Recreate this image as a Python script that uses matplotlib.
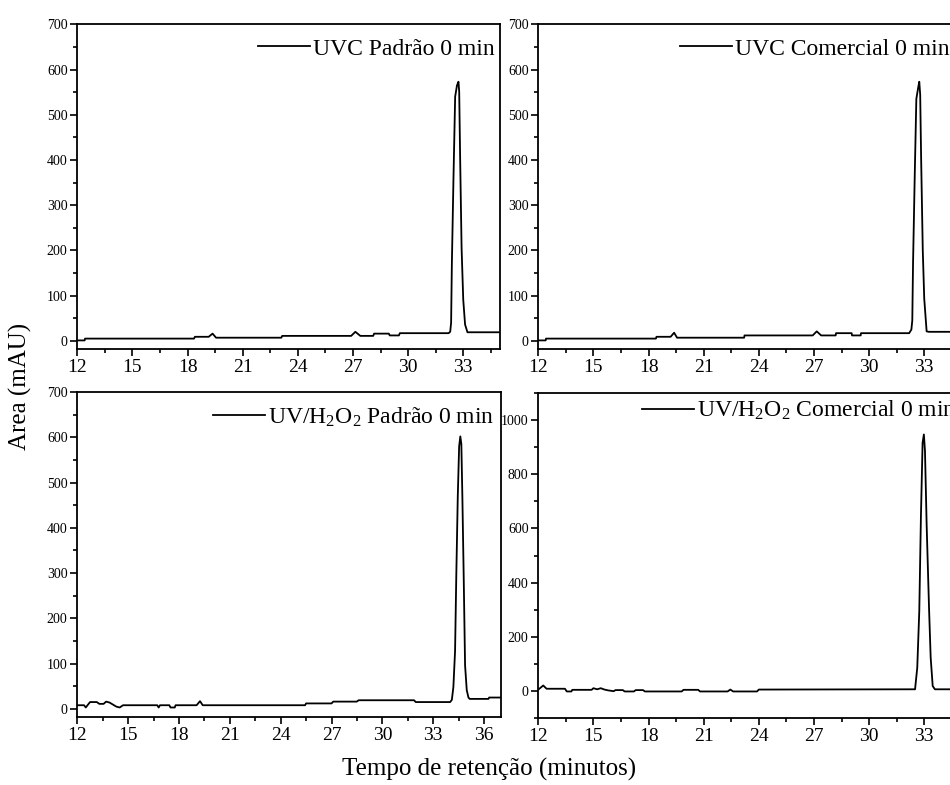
import matplotlib
matplotlib.use('Agg')
import matplotlib.pyplot as plt
from matplotlib.ticker import MultipleLocator

plt.rcParams['font.family'] = ['Liberation Serif', 'DejaVu Serif']
plt.rcParams['mathtext.fontset'] = 'custom'
plt.rcParams['mathtext.rm'] = 'Liberation Serif'
plt.rcParams['mathtext.it'] = 'Liberation Serif:italic'

# ── Chromatograms (time in min, absorbance in mAU) ───────────────────────────

t_uvc_padrao = [12.0, 12.4, 12.42, 18.35, 18.4, 19.15, 19.36, 19.55, 23.1, 23.15,
                26.9, 27.13, 27.4, 28.1, 28.15, 28.95, 29.0, 29.5, 29.55, 32.2,
                32.29, 32.34, 32.38, 32.47, 32.56, 32.66, 32.74, 32.78, 32.83,
                32.91, 33.0, 33.1, 33.23, 35.0]
y_uvc_padrao = [1, 1, 5, 5, 9, 9, 16, 7, 7, 11,
                11, 20, 11, 11, 16, 16, 12, 12, 17, 17,
                20, 40, 168, 363, 540, 565, 573, 551, 408,
                205, 91, 36, 19, 19]

t_uvc_comercial = [12.0, 12.4, 12.42, 18.4, 18.43, 19.2, 19.39, 19.55, 23.2, 23.22,
                   26.93, 27.15, 27.39, 28.18, 28.2, 29.05, 29.07, 29.54, 29.56, 32.18,
                   32.3, 32.35, 32.39, 32.48, 32.57, 32.67, 32.73, 32.78, 32.83,
                   32.92, 33.0, 33.13, 33.25, 35.0]
y_uvc_comercial = [1, 1, 5, 5, 9, 9, 18, 7, 7, 12,
                   12, 21, 12, 12, 17, 17, 12, 12, 17, 17,
                   25, 45, 170, 360, 535, 560, 573, 544, 405,
                   200, 93, 21, 20, 20]

t_h2o2_padrao = [12.0, 12.4, 12.5, 12.75, 13.15, 13.3, 13.55, 13.7, 13.9, 14.3,
                 14.5, 14.7, 16.72, 16.8, 16.88, 17.43, 17.5, 17.75, 17.8, 19.04,
                 19.24, 19.4, 25.44, 25.5, 27.0, 27.1, 28.49, 28.6, 31.87, 31.97,
                 34.0, 34.1, 34.19, 34.29, 34.36, 34.45, 34.53, 34.6, 34.66, 34.72,
                 34.8, 34.88, 34.98, 35.08, 35.15, 36.26, 36.3, 37.0]
y_h2o2_padrao = [8, 8, 3, 15, 15, 11, 11, 16, 14, 5,
                 3, 8, 8, 3, 8, 8, 3, 3, 8, 8,
                 17, 8, 8, 12, 12, 16, 16, 19, 19, 15,
                 15, 20, 48, 128, 290, 470, 580, 602, 585, 470,
                 290, 96, 41, 25, 22, 22, 25, 25]

t_h2o2_comercial = [12.0, 12.27, 12.45, 13.45, 13.55, 13.8, 13.85, 14.9, 15.0, 15.2,
                    15.4, 15.6, 15.8, 16.1, 16.2, 16.6, 16.7, 17.2, 17.3, 17.7,
                    17.8, 19.8, 19.9, 20.7, 20.8, 22.3, 22.45, 22.6, 23.9, 24.0,
                    32.5, 32.62, 32.73, 32.82, 32.91, 32.98, 33.04, 33.13, 33.26,
                    33.35, 33.46, 33.58, 35.0]
y_h2o2_comercial = [5, 20, 8, 8, -2, -2, 4, 4, 10, 6,
                    10, 5, 2, -1, 3, 3, -2, -2, 3, 3,
                    -2, -2, 4, 4, -2, -2, 5, -2, -2, 5,
                    6, 86, 295, 646, 916, 947, 886, 615, 307,
                    123, 18, 6, 6]

labels = ['UVC Padrão 0 min', 'UVC Comercial 0 min',
          'UV/H$_2$O$_2$ Padrão 0 min', 'UV/H$_2$O$_2$ Comercial 0 min']

W, H = 950, 785
fig = plt.figure(figsize=(W / 100, H / 100), dpi=100)


def add_panel(left, right, top, bottom):
    return fig.add_axes([left / W, 1 - bottom / H, (right - left) / W, (bottom - top) / H])


panels = [
    # (axes box in px, x data, y data, xlim, ylim, y major, legend anchor)
    ((77.3, 500, 24.3, 349), t_uvc_padrao, y_uvc_padrao, (12, 35), (-18, 700), 100, (0.4275, 0.924)),
    ((538.3, 961, 24.3, 349), t_uvc_comercial, y_uvc_comercial, (12, 35), (-18, 700), 100, (0.335, 0.924)),
    ((77.3, 501, 392, 717), t_h2o2_padrao, y_h2o2_padrao, (12, 37), (-18, 700), 100, (0.320, 0.922)),
    ((538.3, 961, 393, 718), t_h2o2_comercial, y_h2o2_comercial, (12, 35), (-100, 1100), 200, (0.245, 0.946)),
]

for (box, t, y, xlim, ylim, ymaj, anchor), label in zip(panels, labels):
    ax = add_panel(*box)
    ax.plot(t, y, color='black', lw=1.3, label=label)
    ax.set_xlim(*xlim)
    ax.set_ylim(*ylim)
    ax.xaxis.set_major_locator(MultipleLocator(3))
    ax.xaxis.set_minor_locator(MultipleLocator(1.5))
    ax.yaxis.set_major_locator(MultipleLocator(ymaj))
    ax.yaxis.set_minor_locator(MultipleLocator(ymaj / 2))
    ax.tick_params(which='both', direction='out', width=1.2, top=False, right=False)
    ax.tick_params(which='major', length=5)
    ax.tick_params(which='minor', length=3)
    ax.tick_params(axis='x', labelsize=14, pad=2)
    ax.tick_params(axis='y', labelsize=10, pad=2)
    for sp in ax.spines.values():
        sp.set_linewidth(1.3)
    ax.legend(loc='center left', bbox_to_anchor=anchor, frameon=False,
              fontsize=17, borderpad=0, borderaxespad=0,
              handlelength=2.2, handletextpad=0.15)

fig.text(489 / W, 1 - 769 / H, 'Tempo de retenção (minutos)', fontsize=18,
         ha='center', va='center')
fig.text(20 / W, 1 - 386 / H, 'Area (mAU)', fontsize=18, rotation=90,
         ha='center', va='center')

fig.savefig('out.png', dpi=100)
